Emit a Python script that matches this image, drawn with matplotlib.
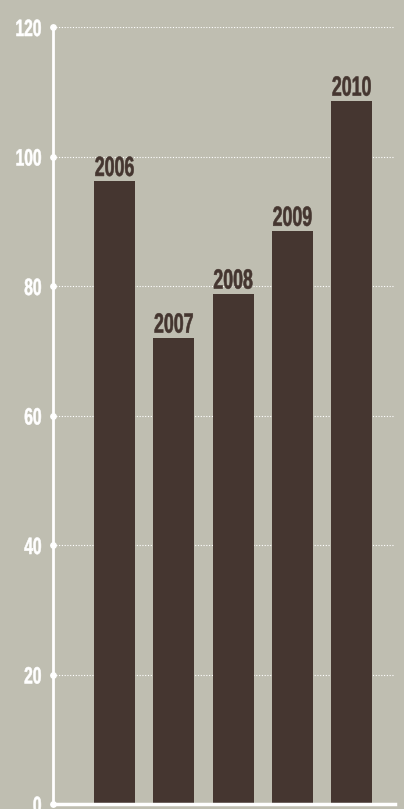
import matplotlib.pyplot as plt
import matplotlib.transforms as mtransforms
import matplotlib.patheffects as pe

years = ['2006', '2007', '2008', '2009', '2010']
values = [96.2, 72.0, 78.8, 88.5, 108.6]
yticks = [0, 20, 40, 60, 80, 100, 120]

bg = '#bfbeb1'
bar_col = '#453630'
font = ['Liberation Sans', 'DejaVu Sans']


class Squeeze(pe.AbstractPathEffect):
    # narrow the glyphs horizontally to fake a condensed typeface
    def __init__(self, sx, anchor='center', stroke=0.0):
        super().__init__()
        self.sx = sx
        self.anchor = anchor
        self.stroke = stroke

    def draw_path(self, renderer, gc, tpath, affine, rgbFace=None):
        ext = tpath.get_extents()
        cx = {'center': (ext.x0 + ext.x1) / 2, 'right': ext.x1, 'left': ext.x0}[self.anchor]
        sq = mtransforms.Affine2D().translate(-cx, 0).scale(self.sx, 1).translate(cx, 0)
        gc0 = renderer.new_gc()
        gc0.copy_properties(gc)
        if self.stroke:
            gc0.set_linewidth(self.stroke)
            gc0.set_foreground(rgbFace)
        renderer.draw_path(gc0, tpath, sq + affine, rgbFace)
        gc0.restore()


fig = plt.figure(figsize=(4.04, 8.09), dpi=100, facecolor=bg)
ax = fig.add_axes([53/404, 5/809, (395-53)/404, 777/809])
ax.set_facecolor(bg)

x = range(len(years))
ax.bar(x, values, width=0.69, color=bar_col, zorder=3)
for xi, v, lab in zip(x, values, years):
    ax.text(xi, v + 0.8, lab, ha='center', va='baseline', color=bar_col,
            fontsize=20, fontweight='bold', family=font, zorder=4,
            path_effects=[Squeeze(0.64, 'center', 0.4)])

ax.set_xlim(-1.04, 4.73)
ax.set_ylim(0, 120)
ax.set_xticks([])
ax.set_yticks(yticks)
ax.set_yticklabels([str(t) for t in yticks], color='white', fontsize=17,
                   fontweight='bold', family=font)
for lbl in ax.get_yticklabels():
    lbl.set_path_effects([Squeeze(0.66, 'right', 0.4)])
ax.tick_params(axis='y', length=0, pad=8)
ax.grid(axis='y', color='white', linestyle=(0, (1, 1.5)), linewidth=0.8, zorder=1)

for s in ['top', 'right']:
    ax.spines[s].set_visible(False)
ax.spines['left'].set_color('white')
ax.spines['left'].set_linewidth(2)
ax.spines['bottom'].set_color('white')
ax.spines['bottom'].set_linewidth(2.5)
ax.spines['bottom'].set_zorder(5)

# dots at tick positions on the axis
trans = mtransforms.blended_transform_factory(ax.transAxes, ax.transData)
ax.scatter([0] * len(yticks), yticks, s=15, color='white', transform=trans,
           clip_on=False, zorder=6)

fig.savefig('out.png', dpi=100, facecolor=bg)
